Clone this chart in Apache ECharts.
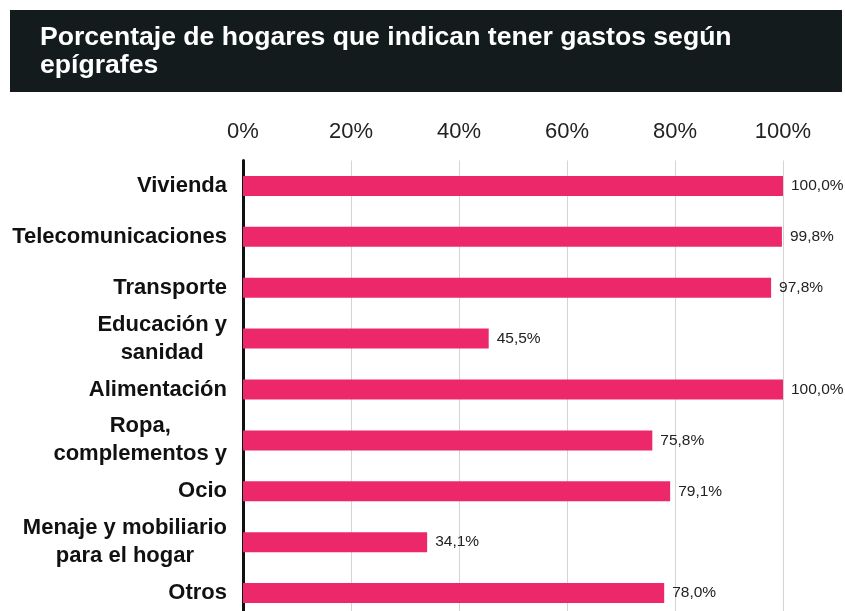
<!DOCTYPE html>
<html>
<head>
<meta charset="utf-8">
<script src="https://cdn.jsdelivr.net/npm/echarts@6/dist/echarts.min.js"></script>
<style>
  html, body { margin: 0; padding: 0; background: #fff; }
  #chart { width: 845px; height: 611px; }
</style>
</head>
<body>
<div id="chart"></div>
<script>
var categories = ['Vivienda', 'Telecomunicaciones', 'Transporte', 'Educación y\nsanidad', 'Alimentación',
  'Ropa,\ncomplementos y', 'Ocio', 'Menaje y mobiliario\npara el hogar', 'Otros'];
var values = [100.0, 99.8, 97.8, 45.5, 100.0, 75.8, 79.1, 34.1, 78.0];
var tickLabels = ['0%', '20%', '40%', '60%', '80%', '100%'];

var font = '"Liberation Sans", Arial, sans-serif';
var chart = echarts.init(document.getElementById('chart'));
chart.setOption({
  backgroundColor: '#ffffff',
  animation: false,
  graphic: [
    { type: 'rect', left: 10, top: 10, shape: { width: 832, height: 82 }, style: { fill: '#131b1c' } },
    { type: 'text', left: 40, top: 24, style: {
      text: 'Porcentaje de hogares que indican tener gastos según\nepígrafes',
      fill: '#ffffff', font: 'bold 26.6px ' + font, lineHeight: 28 } }
  ],
  grid: { left: 243, right: 62, top: 160.5, height: 458, outerBoundsMode: 'none', containLabel: false },
  xAxis: {
    type: 'value', position: 'top', min: 0, max: 100, interval: 20,
    axisLine: { show: false }, axisTick: { show: false },
    axisLabel: { color: '#222', fontSize: 22, fontFamily: font, margin: 18,
      formatter: function(v) { return tickLabels[v / 20]; } },
    splitLine: { lineStyle: { color: '#d4d4d4', width: 1 } }
  },
  yAxis: {
    type: 'category', data: categories, inverse: true,
    axisLine: { show: true, lineStyle: { color: '#111', width: 3 } },
    axisTick: { show: false },
    axisLabel: {
      color: '#111', fontSize: 22, fontWeight: 'bold', fontFamily: font, margin: 16, lineHeight: 28, align: 'right',
      formatter: function(v) {
        return v.split('\n').map(function(l) { return '{c|' + l + '}'; }).join('\n');
      },
      rich: { c: { align: 'center', color: '#111', fontSize: 22, fontWeight: 'bold', fontFamily: font, lineHeight: 28 } }
    }
  },
  series: [{
    type: 'bar', data: values, barWidth: 20,
    itemStyle: { color: '#ec286a' },
    label: { show: true, position: 'right', distance: 8, color: '#222', fontSize: 15.5, fontFamily: font,
      formatter: function(p) { return p.value.toFixed(1).replace('.', ',') + '%'; } }
  }]
});
</script>
</body>
</html>
